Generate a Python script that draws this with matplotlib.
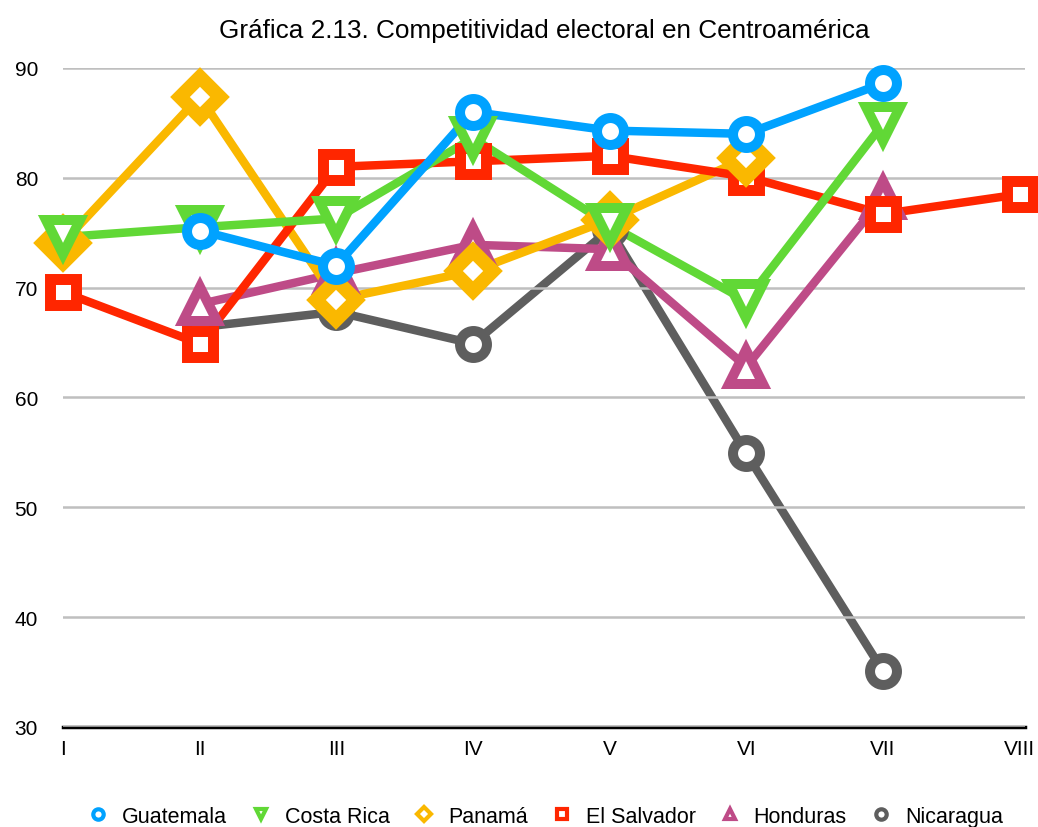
import matplotlib.pyplot as plt
from matplotlib.lines import Line2D

plt.rcParams['font.family'] = ['Liberation Sans', 'DejaVu Sans']

periods = ['I', 'II', 'III', 'IV', 'V', 'VI', 'VII', 'VIII']

# values per period (None = no data)
guatemala = [None, 75.2, 72.0, 86.0, 84.3, 84.0, 88.6, None]
costa_rica = [74.6, 75.5, 76.3, 83.6, 75.7, 68.8, 84.9, None]
panama = [74.1, 87.4, 68.9, 71.5, 76.2, 81.8, None, None]
el_salvador = [69.6, 64.9, 81.0, 81.5, 82.0, 80.1, 76.7, 78.5]
honduras = [None, 68.5, 71.3, 73.9, 73.5, 62.8, 78.2, None]
nicaragua = [None, 66.4, 67.8, 64.9, 75.3, 54.9, 35.1, None]

# name, values, colour, marker, marker size, edge width, line zorder, marker zorder
series = [
    ('Guatemala', guatemala, '#00A2FF', 'o', 19.4, 7.2, 6, 16),
    ('Costa Rica', costa_rica, '#61D836', 'v', 24, 7.2, 5, 15),
    ('Panamá', panama, '#FAB800', 'D', 20, 10, 3, 14),
    ('El Salvador', el_salvador, '#FF2600', 's', 19.4, 7.9, 4, 13),
    ('Honduras', honduras, '#BE4B87', '^', 24, 7.2, 2, 12),
    ('Nicaragua', nicaragua, '#5E5E5E', 'o', 19.4, 7.2, 1, 11),
]

fig = plt.figure(figsize=(10.38, 8.28), dpi=100)
ax = fig.add_axes([0.0607, 0.1208, 0.9268, 0.7959])

handles = []
for name, vals, color, mk, ms, mew, lz, mz in series:
    xs = [i for i, v in enumerate(vals) if v is not None]
    ys = [v for v in vals if v is not None]
    ax.plot(xs, ys, color=color, lw=6.1, zorder=lz, clip_on=False)
    ax.plot(xs, ys, ls='none', marker=mk, ms=ms, mew=mew, mec=color,
            mfc='white', zorder=mz, clip_on=False)
    handles.append(Line2D([], [], ls='none', marker=mk, ms=7.5, mew=3,
                          mec=color, mfc='white', label=name))

ax.set_xlim(0, 7.04)
ax.set_ylim(30, 90)
ax.set_yticks([30, 40, 50, 60, 70, 80, 90])
ax.set_xticks(range(len(periods)))
ax.set_xticklabels(periods)
ax.tick_params(length=0, labelsize=15)
ax.tick_params(axis='y', pad=18)
ax.tick_params(axis='x', pad=9)
ax.grid(axis='y', color='#BFBFBF', lw=1.8, zorder=0)
for s in ['top', 'right', 'left']:
    ax.spines[s].set_visible(False)
ax.spines['bottom'].set_linewidth(2.5)
ax.spines['bottom'].set_zorder(0.5)

fig.text(0.524, 0.963, 'Gráfica 2.13. Competitividad electoral en Centroamérica',
         ha='center', va='center', fontsize=18.8)

fig.legend(handles=handles, loc='center', bbox_to_anchor=(0.524, 0.013),
           ncol=6, frameon=False, fontsize=15.5, handlelength=1.2,
           handletextpad=0.5, columnspacing=1.0)

fig.savefig('out.png', dpi=100)
